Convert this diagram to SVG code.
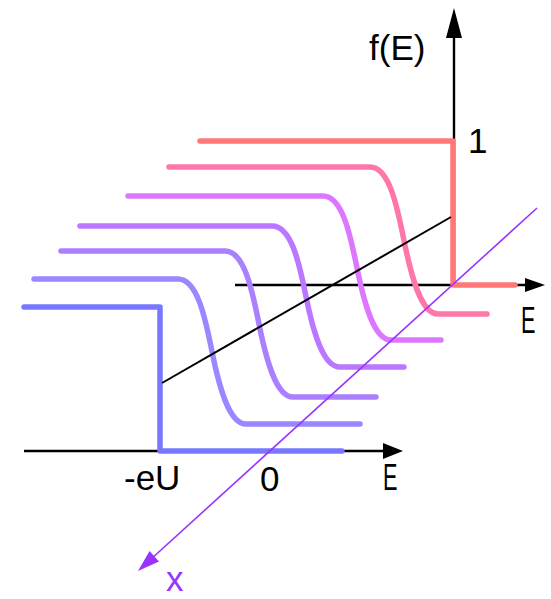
<svg xmlns="http://www.w3.org/2000/svg" width="551" height="599" viewBox="0 0 551 599">
<style>
.ax{stroke:#000;stroke-width:2.4;fill:none}
.cv{fill:none;stroke-width:5.5;stroke-linecap:round;stroke-linejoin:round}
.t{font-family:"Liberation Sans",Arial,sans-serif;font-size:35px;fill:#000}
</style>
<rect width="551" height="599" fill="#fff"/>
<g id="axes">
<line class="ax" x1="24" y1="451" x2="388" y2="451"/>
<polygon points="403,451 383,443 383,459" fill="#000"/>
<line class="ax" x1="235" y1="285" x2="530" y2="285"/>
<polygon points="545,285 525,278 525,292" fill="#000"/>
<line class="ax" x1="454" y1="285" x2="454" y2="30"/>
<polygon points="454,8 446,38 462,38" fill="#000"/>
</g>
<g id="curves">
<path class="cv" stroke="#7878ff" d="M24,307 H160 V451 H342"/>
<path class="cv" stroke="#9988ff" d="M34,279 H178 C197,279 205,316.5 212,351.5 S229,424 246,424 H360"/>
<path class="cv" stroke="#aa80ff" d="M61,251 H225 C244,251 252,289 259,324 S276,397 293,397 H376"/>
<path class="cv" stroke="#bb77ff" d="M80,226 H272 C291,226 299,261.5 306,296.5 S323,367 340,367 H404"/>
<path class="cv" stroke="#dd77ff" d="M128,196 H323 C342,196 350,233 357,268 S374,340 391,340 H441"/>
<path class="cv" stroke="#ff77aa" d="M169,167 H370 C389,167 397,205.5 404,240.5 S421,314 438,314 H487"/>
<path class="cv" stroke="#ff7777" d="M200,141 H453 V285 H515"/>
</g>
<g id="connectors">
<line x1="162" y1="383" x2="451" y2="217" stroke="#000" stroke-width="2"/>
<line x1="537" y1="208" x2="150" y2="560" stroke="#9933ff" stroke-width="1.6"/>
<polygon points="138,571 159,561.4 149.6,551" fill="#9933ff"/>
</g>
<g id="labels">
<text class="t" x="369" y="60">f(E)</text>
<text class="t" x="468" y="153">1</text>
<text class="t" transform="translate(521,333) scale(0.62,1.08)">E</text>
<text class="t" transform="translate(383,490) scale(0.62,1.08)">E</text>
<text class="t" x="124" y="490">-eU</text>
<text class="t" x="260" y="491">0</text>
<text class="t" x="166" y="591" style="fill:#9933ff">x</text>
</g>
</svg>
